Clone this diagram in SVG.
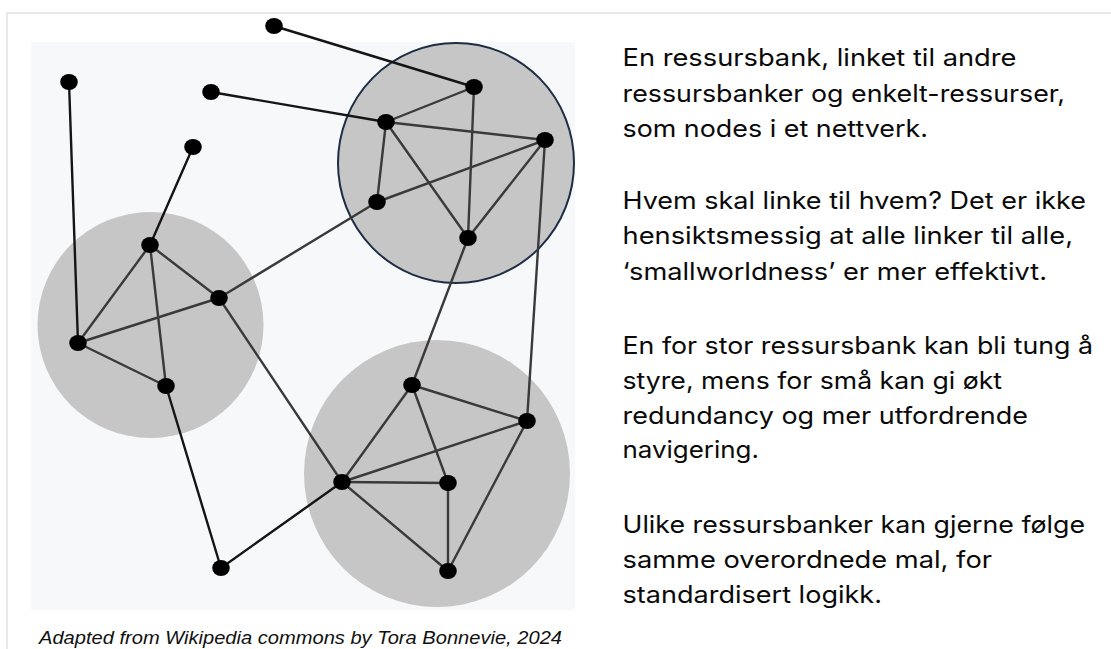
<svg xmlns="http://www.w3.org/2000/svg" width="1111" height="649" viewBox="0 0 1111 649">
<style>
.frame{stroke:#e8e8e8;stroke-width:2;fill:none}
.cluster{fill:#c6c6c6}
.edge{stroke:#3a3a3a;stroke-width:2.4;fill:none;stroke-linecap:round}
.edge.out{stroke:#151515}
.node{fill:#000}
.txt{font-family:Inter,"Open Sans","Liberation Sans",sans-serif;font-size:24px;fill:#0a0a0a}
.cap{font-family:"Liberation Sans",Arial,sans-serif;font-style:italic;font-size:19px;fill:#111}
</style>
<rect width="1111" height="649" fill="#ffffff"/>
<path class="frame" d="M7 649 V13 H1111"/>
<rect x="31" y="42" width="544" height="568" fill="#f7f8fa"/>
<g id="clusters">
<ellipse id="cluster-left" class="cluster" cx="150.5" cy="325" rx="113" ry="113"/>
<ellipse id="cluster-bottom" class="cluster" cx="437" cy="473.5" rx="133" ry="133.5"/>
<ellipse id="cluster-top" class="cluster" cx="456" cy="163" rx="118" ry="120" stroke="#1d2d44" stroke-width="2"/>
</g>
<g id="connectors">
<line class="edge out" x1="274" y1="26" x2="474" y2="87"/>
<line class="edge out" x1="69" y1="82" x2="78" y2="343"/>
<line class="edge out" x1="211" y1="92" x2="386" y2="122"/>
<line class="edge out" x1="193" y1="147" x2="150" y2="245"/>
<line class="edge" x1="474" y1="87" x2="386" y2="122"/>
<line class="edge" x1="474" y1="87" x2="468" y2="238"/>
<line class="edge" x1="386" y1="122" x2="545" y2="140"/>
<line class="edge" x1="386" y1="122" x2="377" y2="202"/>
<line class="edge" x1="386" y1="122" x2="468" y2="238"/>
<line class="edge" x1="545" y1="140" x2="377" y2="202"/>
<line class="edge" x1="545" y1="140" x2="468" y2="238"/>
<line class="edge" x1="545" y1="140" x2="527" y2="421"/>
<line class="edge" x1="377" y1="202" x2="219" y2="298"/>
<line class="edge" x1="468" y1="238" x2="412" y2="385"/>
<line class="edge" x1="150" y1="245" x2="78" y2="343"/>
<line class="edge" x1="150" y1="245" x2="219" y2="298"/>
<line class="edge" x1="150" y1="245" x2="166" y2="386"/>
<line class="edge" x1="78" y1="343" x2="219" y2="298"/>
<line class="edge" x1="78" y1="343" x2="166" y2="386"/>
<line class="edge" x1="219" y1="298" x2="342" y2="482"/>
<line class="edge out" x1="166" y1="386" x2="221" y2="568"/>
<line class="edge out" x1="221" y1="568" x2="342" y2="482"/>
<line class="edge" x1="412" y1="385" x2="527" y2="421"/>
<line class="edge" x1="412" y1="385" x2="342" y2="482"/>
<line class="edge" x1="412" y1="385" x2="448" y2="483"/>
<line class="edge" x1="342" y1="482" x2="527" y2="421"/>
<line class="edge" x1="342" y1="482" x2="448" y2="483"/>
<line class="edge" x1="342" y1="482" x2="448" y2="571"/>
<line class="edge" x1="448" y1="483" x2="448" y2="571"/>
<line class="edge" x1="527" y1="421" x2="448" y2="571"/>
</g>
<g id="nodes">
<ellipse id="n1" class="node" cx="274" cy="26" rx="8.8" ry="8"/>
<ellipse id="n2" class="node" cx="69" cy="82" rx="8.8" ry="8"/>
<ellipse id="n3" class="node" cx="211" cy="92" rx="8.8" ry="8"/>
<ellipse id="n4" class="node" cx="193" cy="147" rx="8.8" ry="8"/>
<ellipse id="t1" class="node" cx="474" cy="87" rx="8.8" ry="8"/>
<ellipse id="t2" class="node" cx="386" cy="122" rx="8.8" ry="8"/>
<ellipse id="t3" class="node" cx="545" cy="140" rx="8.8" ry="8"/>
<ellipse id="t4" class="node" cx="377" cy="202" rx="8.8" ry="8"/>
<ellipse id="t5" class="node" cx="468" cy="238" rx="8.8" ry="8"/>
<ellipse id="l1" class="node" cx="150" cy="245" rx="8.8" ry="8"/>
<ellipse id="l2" class="node" cx="219" cy="298" rx="8.8" ry="8"/>
<ellipse id="l3" class="node" cx="78" cy="343" rx="8.8" ry="8"/>
<ellipse id="l4" class="node" cx="166" cy="386" rx="8.8" ry="8"/>
<ellipse id="b1" class="node" cx="412" cy="385" rx="8.8" ry="8"/>
<ellipse id="b2" class="node" cx="527" cy="421" rx="8.8" ry="8"/>
<ellipse id="b3" class="node" cx="342" cy="482" rx="8.8" ry="8"/>
<ellipse id="b4" class="node" cx="448" cy="483" rx="8.8" ry="8"/>
<ellipse id="b5" class="node" cx="448" cy="571" rx="8.8" ry="8"/>
<ellipse id="m1" class="node" cx="221" cy="568" rx="8.8" ry="8"/>
</g>
<text class="cap" x="39" y="644" textLength="523" lengthAdjust="spacingAndGlyphs">Adapted from Wikipedia commons by Tora Bonnevie, 2024</text>
<g id="description" class="txt">
<text x="622.5" y="66" textLength="394" lengthAdjust="spacingAndGlyphs">En ressursbank, linket til andre</text>
<text x="622.5" y="101.5" textLength="442.5" lengthAdjust="spacingAndGlyphs">ressursbanker og enkelt-ressurser,</text>
<text x="622.5" y="137" textLength="305.5" lengthAdjust="spacingAndGlyphs">som nodes i et nettverk.</text>
<text x="622.5" y="208.5" textLength="463.5" lengthAdjust="spacingAndGlyphs">Hvem skal linke til hvem? Det er ikke</text>
<text x="622.5" y="244" textLength="450.5" lengthAdjust="spacingAndGlyphs">hensiktsmessig at alle linker til alle,</text>
<text x="622.5" y="280" textLength="424.5" lengthAdjust="spacingAndGlyphs">‘smallworldness’ er mer effektivt.</text>
<text x="622.5" y="353.5" textLength="470.5" lengthAdjust="spacingAndGlyphs">En for stor ressursbank kan bli tung å</text>
<text x="622.5" y="388.5" textLength="379.5" lengthAdjust="spacingAndGlyphs">styre, mens for små kan gi økt</text>
<text x="622.5" y="423.5" textLength="405.5" lengthAdjust="spacingAndGlyphs">redundancy og mer utfordrende</text>
<text x="622.5" y="458" textLength="136.5" lengthAdjust="spacingAndGlyphs">navigering.</text>
<text x="622.5" y="532.5" textLength="462.5" lengthAdjust="spacingAndGlyphs">Ulike ressursbanker kan gjerne følge</text>
<text x="622.5" y="567.5" textLength="369.5" lengthAdjust="spacingAndGlyphs">samme overordnede mal, for</text>
<text x="622.5" y="602.5" textLength="259.5" lengthAdjust="spacingAndGlyphs">standardisert logikk.</text>
</g>
</svg>
